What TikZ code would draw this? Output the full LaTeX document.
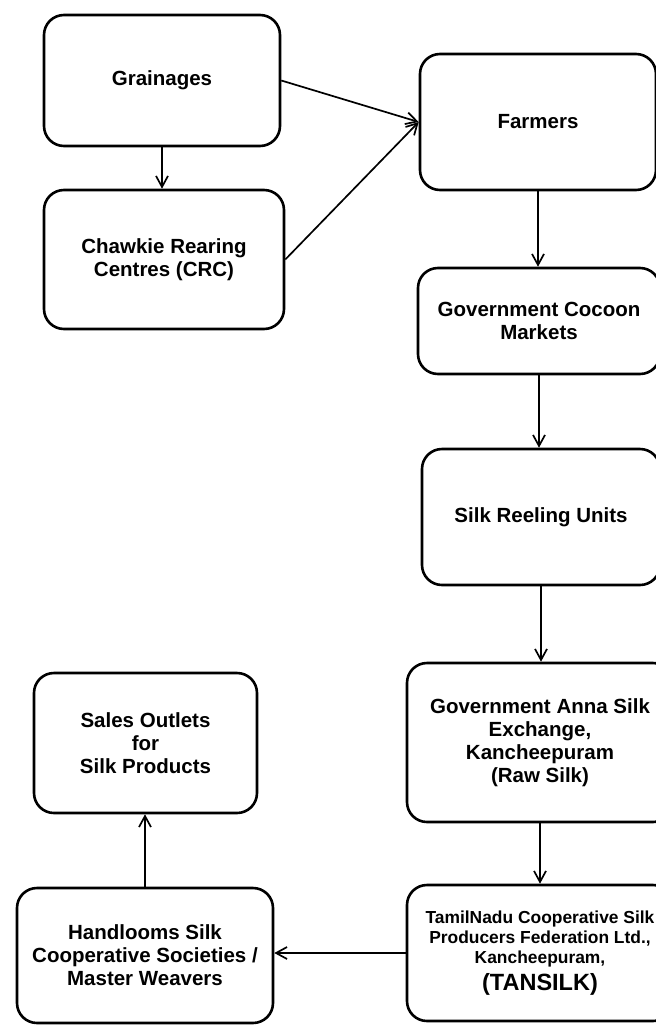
\documentclass[tikz,border=0pt]{standalone}
\usepackage{fontspec}
\setmainfont{Liberation Sans}
\usetikzlibrary{arrows.meta}
\begin{document}
\begin{tikzpicture}[x=1pt,y=-1pt,
  box/.style={draw=black,line width=2.6pt,rounded corners=20pt,align=center,
    font=\fontsize{20.5}{23}\selectfont\bfseries,inner sep=0pt},
  conn/.style={draw=black,line width=1.7pt,-{Straight Barb[length=11pt,width=12pt,line width=1.7pt]}}]
\clip (0,0) rectangle (656,1026);
\fill[white] (0,0) rectangle (656,1026);
\node[box,minimum width=236pt,minimum height=131pt] (g) at (162,80.5) {Grainages};
\node[box,minimum width=240pt,minimum height=139pt] (crc) at (164,259.5) {Chawkie Rearing\\Centres (CRC)};
\node[box,minimum width=236pt,minimum height=136pt] (f) at (538,122) {Farmers};
\node[box,minimum width=242pt,minimum height=106pt] (gcm) at (539,321) {Government Cocoon\\Markets};
\node[box,minimum width=238pt,minimum height=136pt] (sru) at (541,517) {Silk Reeling Units};
\node[box,minimum width=266pt,minimum height=159pt] (gase) at (540,742.5) {Government Anna Silk\\Exchange,\\Kancheepuram\\(Raw Silk)};
\node[box,minimum width=266pt,minimum height=136pt,font=\fontsize{17.4}{20}\selectfont\bfseries] (tan) at (540,953) {TamilNadu Cooperative Silk\\Producers Federation Ltd.,\\Kancheepuram,\\[5pt]{\fontsize{23.5}{24}\selectfont (TANSILK)}};
\node[box,minimum width=223pt,minimum height=140pt] (so) at (145.5,743) {Sales Outlets\\for\\Silk Products};
\node[box,minimum width=256pt,minimum height=135pt] (hl) at (145,955.5) {Handlooms Silk\\Cooperative Societies /\\Master Weavers};
\draw[conn] (g.south) -- (g.south |- crc.north);
\draw[conn] (g.east) -- (f.west);
\draw[conn] (crc.east) -- (f.west);
\draw[conn] (f.south) -- (f.south |- gcm.north);
\draw[conn] (gcm.south) -- (gcm.south |- sru.north);
\draw[conn] (sru.south) -- (sru.south |- gase.north);
\draw[conn] (gase.south) -- (gase.south |- tan.north);
\draw[conn] (tan.west) -- (tan.west -| hl.east);
\draw[conn] (hl.north) -- (hl.north |- so.south);
\end{tikzpicture}
\end{document}
